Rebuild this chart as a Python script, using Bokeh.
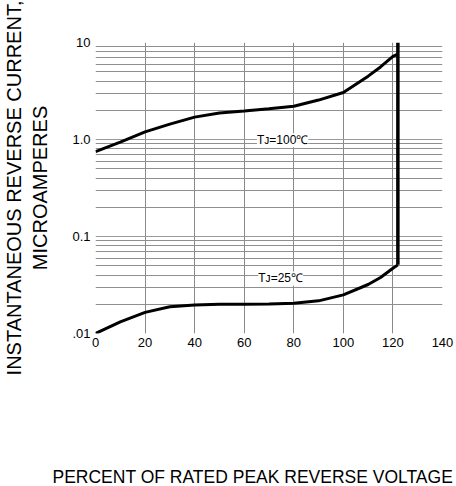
from bokeh.plotting import figure
from bokeh.models import Range1d, FixedTicker, Label, Title
from bokeh.embed import file_html
from bokeh.resources import INLINE

# ---- data ----
x_100 = [0, 10, 20, 30, 40, 50, 60, 70, 80, 90, 100, 110, 115, 120, 122]
y_100 = [0.75, 0.94, 1.2, 1.44, 1.7, 1.88, 1.97, 2.07, 2.2, 2.55, 3.05, 4.5, 5.6, 7.2, 7.6]

x_25 = [0, 10, 20, 30, 40, 50, 60, 70, 80, 90, 100, 110, 115, 120, 122]
y_25 = [0.01, 0.0132, 0.0165, 0.0189, 0.0197, 0.02, 0.02, 0.0202, 0.0205, 0.0217, 0.025, 0.032, 0.0378, 0.047, 0.051]

x_limit = [122, 122]
y_limit = [0.051, 10]

x_ticks = [0, 20, 40, 60, 80, 100, 120, 140]
y_ticks = [0.01, 0.1, 1, 10]
y_tick_labels = [".01", "0.1", "1.0", "10"]
y_minor = [m * d for d in [0.01, 0.1, 1] for m in [2, 3, 4, 5, 6, 7, 8, 9]]

label_100 = "Tᴊ=100℃"
label_25 = "Tᴊ=25℃"
label_100_pos = (75.5, 0.98)
label_25_pos = (74.7, 0.037)

x_title = "PERCENT OF RATED PEAK REVERSE VOLTAGE"
y_title = "INSTANTANEOUS REVERSE CURRENT,\nMICROAMPERES"

FONT = "Liberation Sans"

p = figure(width=456, height=486, y_axis_type="log",
           x_range=Range1d(0, 140), y_range=Range1d(0.01, 10),
           output_backend="svg", toolbar_location=None,
           min_border_left=93, min_border_right=14, min_border_top=42, min_border_bottom=150)
p.outline_line_color = None
p.background_fill_color = "white"
p.border_fill_color = "white"

p.xaxis.ticker = FixedTicker(ticks=x_ticks)
p.yaxis.ticker = FixedTicker(ticks=y_ticks, minor_ticks=y_minor)
p.yaxis.major_label_overrides = {t: l for t, l in zip(y_ticks, y_tick_labels)}

for ax in (p.xaxis[0], p.yaxis[0]):
    ax.axis_line_color = None
    ax.major_tick_line_color = None
    ax.minor_tick_line_color = None
    ax.major_tick_out = 0
    ax.major_tick_in = 0
    ax.minor_tick_out = 0
    ax.minor_tick_in = 0
    ax.major_label_text_font = FONT
    ax.major_label_text_font_size = "13px"
    ax.major_label_text_color = "black"
    ax.axis_label_text_font = FONT
    ax.axis_label_text_font_style = "normal"
    ax.axis_label_text_color = "black"

p.xaxis.major_label_standoff = 4
# spacer label (non-breaking space) that reserves room above the title
p.xaxis.axis_label = "\u00a0"
p.xaxis.axis_label_text_font_size = "17.5px"
p.xaxis.axis_label_standoff = 92

p.yaxis.major_label_standoff = 5
p.yaxis.axis_label = y_title
p.yaxis.axis_label_text_font_size = "20px"
p.yaxis.axis_label_standoff = 18

p.xgrid.grid_line_color = "#8a8a8a"
p.xgrid.grid_line_width = 1
p.ygrid.grid_line_color = "#9a9a9a"
p.ygrid.grid_line_width = 1
p.ygrid.minor_grid_line_color = "#8f8f8f"
p.ygrid.minor_grid_line_width = 1

p.line(x_100, y_100, line_color="black", line_width=3)
p.line(x_25, y_25, line_color="black", line_width=3)
p.line(x_limit, y_limit, line_color="black", line_width=3.5)

for txt, (lx, ly) in ((label_100, label_100_pos), (label_25, label_25_pos)):
    p.add_layout(Label(x=lx, y=ly, text=txt, text_font=FONT, text_font_size="12px",
                       text_color="black", text_align="center", text_baseline="middle",
                       background_fill_color="white", background_fill_alpha=1.0))

p.add_layout(Title(text=x_title, text_font=FONT, text_font_size="17.5px",
                   text_font_style="normal", text_color="black",
                   align="left", offset=-43, standoff=0), "below")

open("out.html", "w").write(file_html(p, INLINE))
